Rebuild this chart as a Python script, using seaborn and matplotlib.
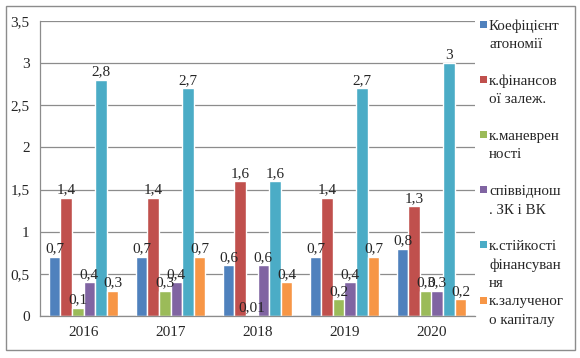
import numpy as np
import pandas as pd
import matplotlib
matplotlib.use("Agg")
import matplotlib.pyplot as plt
import seaborn as sb
from matplotlib.patches import Rectangle

# дані з діаграми
years = ["2016", "2017", "2018", "2019", "2020"]
series = ["Коефіцієнт\nатономії",
          "к.фінансов\nої залеж.",
          "к.маневрен\nності",
          "співвіднош\n. ЗК і ВК",
          "к.стійкості\nфінансуван\nня",
          "к.залученог\nо капіталу"]
k_avtonomii = [0.7, 0.7, 0.6, 0.7, 0.8]
k_fin_zalezh = [1.4, 1.4, 1.6, 1.4, 1.3]
k_manevr = [0.1, 0.3, 0.01, 0.2, 0.3]
zk_vk = [0.4, 0.4, 0.6, 0.4, 0.3]
k_stiikosti = [2.8, 2.7, 1.6, 2.7, 3.0]
k_zaluch = [0.3, 0.7, 0.4, 0.7, 0.2]
colors = ["#4F81BD", "#C0504D", "#9BBB59", "#8064A2", "#4BACC6", "#F79646"]

values = [k_avtonomii, k_fin_zalezh, k_manevr, zk_vk, k_stiikosti, k_zaluch]
rows = []
for name, vals in zip(series, values):
    for y, v in zip(years, vals):
        rows.append({"year": y, "series": name, "value": v})
df = pd.DataFrame(rows)

sb.set_style("white")
plt.rcParams["font.family"] = ["Liberation Serif", "DejaVu Serif"]

W, H = 580, 358
fig = plt.figure(figsize=(5.8, 3.58), dpi=100)
ax = fig.add_axes([40/W, 1-316/H, 435/W, 295/H])

sb.barplot(data=df, x="year", y="value", hue="series", palette=colors,
           width=0.8, saturation=1, ax=ax, errorbar=None, legend=False)

ax.set_ylim(0, 3.5)
ax.set_xlim(-0.5, 4.5)
yt = np.arange(0, 3.51, 0.5)
ax.set_yticks(yt)
ax.set_yticklabels([f"{t:g}".replace(".", ",") for t in yt])
ax.yaxis.grid(True, color="#8c8c8c", linewidth=0.9)
ax.set_axisbelow(True)
ax.set_xlabel("")
ax.set_ylabel("")
ax.tick_params(axis="x", labelsize=11, length=0, pad=7)
ax.tick_params(axis="y", labelsize=11, length=0, pad=7.5)
ax.set_xticks(np.arange(-0.5, 5, 1), minor=True)
ax.tick_params(axis="x", which="minor", length=5, color="#8c8c8c")
for s in ["top", "right"]:
    ax.spines[s].set_visible(False)
for s in ["left", "bottom"]:
    ax.spines[s].set_color("#8c8c8c")
    ax.spines[s].set_linewidth(0.9)

# підписи значень
for cont in ax.containers:
    labels = [f"{v:g}".replace(".", ",") for v in cont.datavalues]
    ax.bar_label(cont, labels=labels, fontsize=11, padding=1)

# легенда (вручну, маркер біля першого рядка як в Excel)
for i, (name, c) in enumerate(zip(series, colors)):
    y0 = 26 + 55.2 * i
    fig.patches.append(Rectangle((480/W, 1-(y0+1.5)/H), 7/W, 7/H, transform=fig.transFigure,
                                 facecolor=c, edgecolor="none"))
    for j, line in enumerate(name.split("\n")):
        fig.text(489/W, 1-(y0 + 18.5*j)/H, line, fontsize=10.8, va="center", ha="left")

# рамка
fig.patches.append(Rectangle((6/W, 1-350/H), 569/W, 344/H, transform=fig.transFigure,
                             fill=False, edgecolor="#8c8c8c", linewidth=1))

fig.savefig("out.png", dpi=100)
